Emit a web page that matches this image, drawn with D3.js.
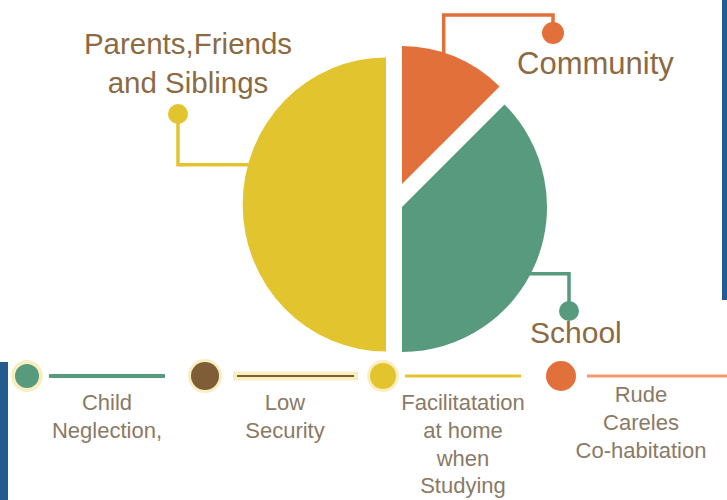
<!DOCTYPE html>
<html>
<head>
<meta charset="utf-8">
<script src="https://cdn.jsdelivr.net/npm/d3@7"></script>
<style>
  body { margin: 0; background: #fff; }
  svg { display: block; }
</style>
</head>
<body>
<div id="chart"></div>
<script>
// pie data (clockwise from 12 o'clock)
var sources = ["Community", "School", "Parents,Friends and Siblings"];
var shares = [12.5, 37.5, 50];
var sourceColors = ["#e2703a", "#579a7e", "#e2c42e"];

// bottom factors
var factors = ["Child Neglection,", "Low Security", "Facilitatation at home when Studying", "Rude Careles Co-habitation"];
var factorLines = [
    ["Child", "Neglection,"],
    ["Low", "Security"],
    ["Facilitatation", "at home", "when", "Studying"],
    ["Rude", "Careles", "Co-habitation"]
];
var factorColors = ["#579a7e", "#7e5d37", "#e2c42e", "#e2703a"];

(function () {
    var width = 727,
        height = 500;
    var halo = "#f8efc1";
    var topText = "#8b6a44";
    var bottomText = "#8a7a65";

    var svg = d3.select("#chart")
        .append("svg")
        .attr("width", width)
        .attr("height", height);

    // side bars
    svg.append("rect").attr("x", 0).attr("y", 362).attr("width", 8).attr("height", 138).attr("fill", "#235b8f");
    svg.append("rect").attr("x", 722).attr("y", 0).attr("width", 5).attr("height", 300).attr("fill", "#235b8f");

    // each slice is pulled apart a bit
    var sliceLayout = [
        { cx: 402, cy: 184, r: 138, sx: 1, label: [517], lineAngle: 18 },
        { cx: 402, cy: 207, r: 145, sx: 1, lineAngle: 118 },
        { cx: 386, cy: 204.5, r: 147, sx: 0.975, lineAngle: 286 }
    ];

    var pie = d3.pie().sort(null).value(function (d) { return d; });
    var arcs = pie(shares);

    arcs.forEach(function (a, i) {
        var lay = sliceLayout[i];
        var arc = d3.arc().innerRadius(0).outerRadius(lay.r);
        svg.append("path")
            .attr("d", arc(a))
            .attr("fill", sourceColors[i])
            .attr("transform", "translate(" + lay.cx + "," + lay.cy + ") scale(" + lay.sx + ",1)");
    });

    // leader lines + dots
    function edgePoint(i) {
        var lay = sliceLayout[i];
        var t = lay.lineAngle * Math.PI / 180;
        return [lay.cx + Math.sin(t) * (lay.r - 3) * lay.sx, lay.cy - Math.cos(t) * (lay.r - 3)];
    }
    var leaders = [];
    var p = edgePoint(0);
    leaders.push({ pts: [p, [p[0], 15], [553, 15], [553, 33]], dot: [553, 33], r: 11 });
    p = edgePoint(1);
    leaders.push({ pts: [p, [569, p[1]], [569, 311]], dot: [569, 311], r: 10 });
    p = edgePoint(2);
    leaders.push({ pts: [p, [178, p[1]], [178, 114]], dot: [178, 114], r: 10 });

    leaders.forEach(function (l, i) {
        svg.append("path")
            .attr("d", d3.line()(l.pts))
            .attr("fill", "none")
            .attr("stroke", sourceColors[i])
            .attr("stroke-width", 3.5);
        svg.append("circle")
            .attr("cx", l.dot[0]).attr("cy", l.dot[1]).attr("r", l.r)
            .attr("fill", sourceColors[i]);
    });

    // slice labels
    var labelFont = "'Liberation Sans', Arial, sans-serif";
    svg.append("text")
        .attr("x", 517).attr("y", 74)
        .attr("font-family", labelFont).attr("font-size", 31)
        .attr("fill", topText)
        .text(sources[0]);
    svg.append("text")
        .attr("x", 530).attr("y", 343)
        .attr("font-family", labelFont).attr("font-size", 30)
        .attr("fill", topText)
        .text(sources[1]);
    var parents = svg.append("text")
        .attr("font-family", labelFont).attr("font-size", 29.5)
        .attr("fill", topText)
        .attr("text-anchor", "middle");
    ["Parents,Friends", "and Siblings"].forEach(function (s, k) {
        parents.append("tspan").attr("x", 188).attr("y", 54 + k * 39).text(s);
    });

    // bottom row
    var x = d3.scaleLinear().domain([0, factors.length - 1]).range([107, 641]);
    var radii = [12, 14, 13, 15];
    var halos = [16, 17, 16, 0];
    var rowY = 376;

    factors.forEach(function (f, i) {
        var c = x(i) - 80;
        var lineEnd = i < factors.length - 1 ? x(i + 1) - 120 : width;
        var lineStart = c + 22;

        if (i === 1) {
            svg.append("line")
                .attr("x1", lineStart + 6).attr("x2", lineEnd + 15)
                .attr("y1", rowY).attr("y2", rowY)
                .attr("stroke", halo).attr("stroke-width", 9);
            svg.append("line")
                .attr("x1", lineStart + 10).attr("x2", lineEnd + 11)
                .attr("y1", rowY).attr("y2", rowY)
                .attr("stroke", factorColors[i]).attr("stroke-width", 2);
        } else {
            svg.append("line")
                .attr("x1", lineStart + (i === 3 ? 4 : 0)).attr("x2", lineEnd)
                .attr("y1", rowY).attr("y2", rowY)
                .attr("stroke", i === 3 ? "#ef9a70" : factorColors[i])
                .attr("stroke-width", i === 0 ? 4 : 3);
        }

        if (halos[i]) {
            svg.append("circle")
                .attr("cx", c).attr("cy", rowY)
                .attr("r", halos[i]).attr("fill", halo);
        }
        svg.append("circle")
            .attr("cx", c).attr("cy", rowY)
            .attr("r", radii[i]).attr("fill", factorColors[i]);

        var t = svg.append("text")
            .attr("font-family", labelFont).attr("font-size", 22)
            .attr("fill", bottomText)
            .attr("text-anchor", "middle");
        var y0 = i === 3 ? 402 : 410;
        factorLines[i].forEach(function (s, k) {
            t.append("tspan").attr("x", x(i)).attr("y", y0 + k * 27.8).text(s);
        });
    });
})();
</script>
</body>
</html>
